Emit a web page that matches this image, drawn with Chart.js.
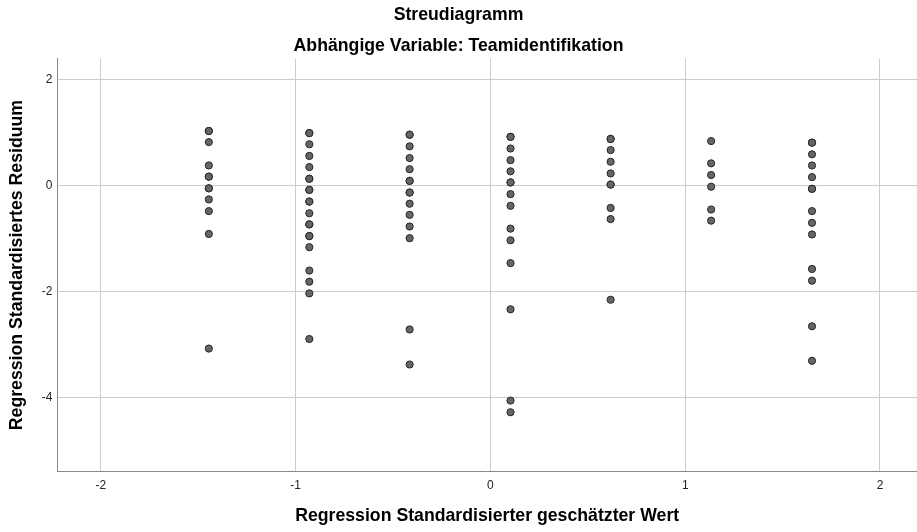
<!DOCTYPE html>
<html>
<head>
<meta charset="utf-8">
<script src="https://cdn.jsdelivr.net/npm/chart.js@4"></script>
<style>
  html, body { margin: 0; padding: 0; background: #fff; }
  #wrap { width: 917px; height: 532px; }
</style>
</head>
<body>
<div id="wrap"><canvas id="myChart"></canvas></div>
<script>
// standardised predicted value of each group (x)
const predicted = [-1.446, -0.930, -0.415, 0.103, 0.617, 1.133, 1.651];

// standardised residuals per group (y), repeated values = overlapping points
const res1 = [1.03, 1.03, 0.82, 0.38, 0.17, 0.17, -0.05, -0.05, -0.26, -0.48, -0.91, -3.07];
const res2 = [0.99, 0.99, 0.78, 0.56, 0.35, 0.13, 0.13, -0.08, -0.08, -0.30, -0.30, -0.52, -0.73, -0.73, -0.95, -0.95, -1.16, -1.60, -1.81, -2.03, -2.89];
const res3 = [0.96, 0.96, 0.74, 0.52, 0.31, 0.09, 0.09, -0.13, -0.13, -0.34, -0.55, -0.77, -0.99, -2.71, -3.37];
const res4 = [0.92, 0.92, 0.70, 0.48, 0.27, 0.06, 0.06, -0.16, -0.38, -0.81, -1.03, -1.46, -2.33, -4.05, -4.27];
const res5 = [0.88, 0.88, 0.67, 0.45, 0.23, 0.02, 0.02, -0.42, -0.63, -2.15];
const res6 = [0.84, 0.42, 0.20, -0.02, -0.45, -0.66];
const res7 = [0.81, 0.81, 0.59, 0.38, 0.16, -0.06, -0.06, -0.48, -0.70, -0.92, -1.57, -1.79, -2.65, -3.30];

const xTicks = [-2, -1, 0, 1, 2];
const yTicks = [-4, -2, 0, 2];

const groups = [res1, res2, res3, res4, res5, res6, res7];
const points = [];
groups.forEach((g, i) => {
    g.forEach(r => points.push({ x: predicted[i], y: r }));
});

const fontFam = '"Liberation Sans", Arial, sans-serif';
const titleFont = { family: fontFam, size: 17.7, weight: 'bold', lineHeight: 1.2 };

const config = {
    type: 'scatter',
    data: {
        datasets: [{
            label: 'Residuen',
            data: points,
            backgroundColor: '#666666',
            borderColor: '#262626',
            borderWidth: 1,
            pointRadius: 3.6,
            pointHoverRadius: 3.6
        }]
    },
    options: {
        responsive: false,
        animation: false,
        // no extra room for the points, the plot runs to the right edge
        layout: { padding: 0, autoPadding: false },
        plugins: {
            legend: { display: false },
            tooltip: { enabled: false },
            title: {
                display: true,
                text: 'Streudiagramm',
                color: '#000',
                font: titleFont,
                padding: { top: 4.5, bottom: 10 }
            },
            subtitle: {
                display: true,
                text: 'Abhängige Variable: Teamidentifikation',
                color: '#000',
                font: titleFont,
                padding: { top: 0, bottom: 1.5 }
            }
        },
        scales: {
            x: {
                type: 'linear',
                min: -2.224,
                max: 2.19,
                afterBuildTicks: s => { s.ticks = xTicks.map(v => ({ value: v })); },
                afterFit: s => { s.height = 60.3; },
                grid: { color: '#cccccc', lineWidth: 1, drawTicks: false },
                border: { display: true, color: '#8a8a8a', width: 1 },
                ticks: {
                    color: '#222',
                    font: { family: fontFam, size: 12 },
                    padding: 7
                },
                title: {
                    display: true,
                    text: 'Regression Standardisierter geschätzter Wert',
                    color: '#000',
                    font: titleFont,
                    padding: { top: 0, bottom: 5.5 }
                }
            },
            y: {
                type: 'linear',
                min: -5.39,
                max: 2.396,
                afterBuildTicks: s => { s.ticks = yTicks.map(v => ({ value: v })); },
                afterFit: s => { s.width = 57.3; },
                grid: { color: '#cccccc', lineWidth: 1, drawTicks: false },
                border: { display: true, color: '#8a8a8a', width: 1 },
                ticks: {
                    color: '#222',
                    font: { family: fontFam, size: 12 },
                    padding: 5
                },
                title: {
                    display: true,
                    text: 'Regression Standardisiertes Residuum',
                    color: '#000',
                    font: titleFont,
                    padding: { top: 6.5, bottom: 0 }
                }
            }
        }
    }
};

const canvas = document.getElementById('myChart');
canvas.width = 917;
canvas.height = 532;
const myChart = new Chart(canvas, config);
</script>
</body>
</html>
